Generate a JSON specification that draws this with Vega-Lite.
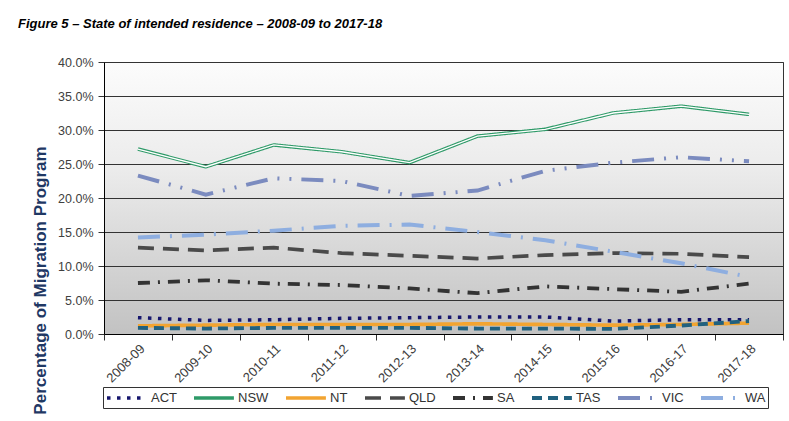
{
  "$schema": "https://vega.github.io/schema/vega-lite/v6.json",
  "autosize": {"type": "none"},
  "padding": {"left": 104, "top": 62, "right": 6, "bottom": 87},
  "width": 679,
  "height": 272,
  "background": "white",
  "title": {
    "text": "Figure 5 – State of intended residence – 2008-09 to 2017-18",
    "anchor": "start",
    "frame": "group",
    "dx": -86,
    "offset": 25,
    "font": "Liberation Sans",
    "fontSize": 13,
    "fontStyle": "italic",
    "fontWeight": "bold",
    "color": "#000000"
  },
  "config": {
    "font": "Liberation Sans",
    "view": {
      "stroke": "#333333",
      "strokeWidth": 1,
      "fill": {
        "gradient": "linear",
        "x1": 0, "y1": 0, "x2": 0, "y2": 1,
        "stops": [
          {"offset": 0, "color": "#fcfcfc"},
          {"offset": 0.4, "color": "#ebebeb"},
          {"offset": 1, "color": "#c2c2c2"}
        ]
      }
    }
  },
  "data": {
    "values": [
      {"year": "2008-09", "state": "ACT", "pct": 2.4},
      {"year": "2009-10", "state": "ACT", "pct": 2.0},
      {"year": "2010-11", "state": "ACT", "pct": 2.1},
      {"year": "2011-12", "state": "ACT", "pct": 2.3},
      {"year": "2012-13", "state": "ACT", "pct": 2.4},
      {"year": "2013-14", "state": "ACT", "pct": 2.5},
      {"year": "2014-15", "state": "ACT", "pct": 2.5},
      {"year": "2015-16", "state": "ACT", "pct": 1.9},
      {"year": "2016-17", "state": "ACT", "pct": 2.1},
      {"year": "2017-18", "state": "ACT", "pct": 2.1},
      {"year": "2008-09", "state": "NSW", "pct": 27.2},
      {"year": "2009-10", "state": "NSW", "pct": 24.6},
      {"year": "2010-11", "state": "NSW", "pct": 27.8},
      {"year": "2011-12", "state": "NSW", "pct": 26.8},
      {"year": "2012-13", "state": "NSW", "pct": 25.2},
      {"year": "2013-14", "state": "NSW", "pct": 29.1},
      {"year": "2014-15", "state": "NSW", "pct": 30.1},
      {"year": "2015-16", "state": "NSW", "pct": 32.5},
      {"year": "2016-17", "state": "NSW", "pct": 33.5},
      {"year": "2017-18", "state": "NSW", "pct": 32.3},
      {"year": "2008-09", "state": "NT", "pct": 1.2},
      {"year": "2009-10", "state": "NT", "pct": 1.3},
      {"year": "2010-11", "state": "NT", "pct": 1.4},
      {"year": "2011-12", "state": "NT", "pct": 1.4},
      {"year": "2012-13", "state": "NT", "pct": 1.4},
      {"year": "2013-14", "state": "NT", "pct": 1.5},
      {"year": "2014-15", "state": "NT", "pct": 1.4},
      {"year": "2015-16", "state": "NT", "pct": 1.3},
      {"year": "2016-17", "state": "NT", "pct": 1.4},
      {"year": "2017-18", "state": "NT", "pct": 1.6},
      {"year": "2008-09", "state": "QLD", "pct": 12.7},
      {"year": "2009-10", "state": "QLD", "pct": 12.3},
      {"year": "2010-11", "state": "QLD", "pct": 12.7},
      {"year": "2011-12", "state": "QLD", "pct": 11.9},
      {"year": "2012-13", "state": "QLD", "pct": 11.5},
      {"year": "2013-14", "state": "QLD", "pct": 11.1},
      {"year": "2014-15", "state": "QLD", "pct": 11.6},
      {"year": "2015-16", "state": "QLD", "pct": 11.9},
      {"year": "2016-17", "state": "QLD", "pct": 11.8},
      {"year": "2017-18", "state": "QLD", "pct": 11.3},
      {"year": "2008-09", "state": "SA", "pct": 7.5},
      {"year": "2009-10", "state": "SA", "pct": 7.9},
      {"year": "2010-11", "state": "SA", "pct": 7.4},
      {"year": "2011-12", "state": "SA", "pct": 7.2},
      {"year": "2012-13", "state": "SA", "pct": 6.7},
      {"year": "2013-14", "state": "SA", "pct": 6.0},
      {"year": "2014-15", "state": "SA", "pct": 7.0},
      {"year": "2015-16", "state": "SA", "pct": 6.6},
      {"year": "2016-17", "state": "SA", "pct": 6.2},
      {"year": "2017-18", "state": "SA", "pct": 7.4},
      {"year": "2008-09", "state": "TAS", "pct": 0.9},
      {"year": "2009-10", "state": "TAS", "pct": 0.8},
      {"year": "2010-11", "state": "TAS", "pct": 0.9},
      {"year": "2011-12", "state": "TAS", "pct": 0.9},
      {"year": "2012-13", "state": "TAS", "pct": 0.9},
      {"year": "2013-14", "state": "TAS", "pct": 0.8},
      {"year": "2014-15", "state": "TAS", "pct": 0.8},
      {"year": "2015-16", "state": "TAS", "pct": 0.75},
      {"year": "2016-17", "state": "TAS", "pct": 1.25},
      {"year": "2017-18", "state": "TAS", "pct": 1.9},
      {"year": "2008-09", "state": "VIC", "pct": 23.3},
      {"year": "2009-10", "state": "VIC", "pct": 20.5},
      {"year": "2010-11", "state": "VIC", "pct": 22.9},
      {"year": "2011-12", "state": "VIC", "pct": 22.5},
      {"year": "2012-13", "state": "VIC", "pct": 20.3},
      {"year": "2013-14", "state": "VIC", "pct": 21.1},
      {"year": "2014-15", "state": "VIC", "pct": 24.0},
      {"year": "2015-16", "state": "VIC", "pct": 25.2},
      {"year": "2016-17", "state": "VIC", "pct": 26.0},
      {"year": "2017-18", "state": "VIC", "pct": 25.4},
      {"year": "2008-09", "state": "WA", "pct": 14.2},
      {"year": "2009-10", "state": "WA", "pct": 14.6},
      {"year": "2010-11", "state": "WA", "pct": 15.2},
      {"year": "2011-12", "state": "WA", "pct": 15.9},
      {"year": "2012-13", "state": "WA", "pct": 16.1},
      {"year": "2013-14", "state": "WA", "pct": 15.0},
      {"year": "2014-15", "state": "WA", "pct": 13.8},
      {"year": "2015-16", "state": "WA", "pct": 12.1},
      {"year": "2016-17", "state": "WA", "pct": 10.4},
      {"year": "2017-18", "state": "WA", "pct": 8.4}
    ]
  },
  "encoding": {
    "x": {
      "field": "year",
      "type": "ordinal",
      "bandPosition": 0.5,
      "scale": {"type": "band", "paddingInner": 0, "paddingOuter": 0},
      "axis": {
        "title": null,
        "labelAngle": -45,
        "tickBand": "extent",
        "labelFont": "Liberation Sans",
        "labelFontSize": 13,
        "labelColor": "#404040",
        "labelPadding": 2,
        "domainColor": "#000000",
        "tickColor": "#333333",
        "tickSize": 6,
        "grid": false
      }
    },
    "y": {
      "field": "pct",
      "type": "quantitative",
      "scale": {"domain": [0, 40], "nice": false},
      "axis": {
        "values": [0, 5, 10, 15, 20, 25, 30, 35, 40],
        "labelExpr": "format(datum.value, '.1f') + '%'",
        "labelFont": "Liberation Sans",
        "labelFontSize": 12.5,
        "labelColor": "#404040",
        "labelPadding": 5,
        "domainColor": "#000000",
        "tickColor": "#333333",
        "tickSize": 6,
        "grid": true,
        "gridColor": "#333333",
        "gridWidth": 1,
        "title": "Percentage of Migration Program",
        "titleFont": "Liberation Sans",
        "titleFontSize": 17,
        "titleFontWeight": "bold",
        "titleColor": "#1f3864",
        "titleX": -64,
        "titleY": 218,
        "titleBaseline": "middle"
      }
    }
  },
  "layer": [
    {
      "mark": {"type": "line"},
      "encoding": {
        "color": {
          "field": "state",
          "type": "nominal",
          "scale": {
            "domain": ["ACT", "NSW", "NT", "QLD", "SA", "TAS", "VIC", "WA"],
            "range": ["#16166e", "#2e9a68", "#f2a431", "#4a4a4a", "#333333", "#21617f", "#7b8bbf", "#8eaee0"]
          },
          "legend": {
            "title": null,
            "orient": "none",
            "legendX": -1,
            "legendY": 325,
            "direction": "horizontal",
            "columns": 8,
            "gridAlign": "none",
            "symbolType": "M-1,0H4.7",
            "symbolSize": 196,
            "labelFont": "Liberation Sans",
            "labelFontSize": 13,
            "labelColor": "#333333",
            "labelOffset": 28,
            "columnPadding": 9,
            "padding": 2,
            "strokeColor": "#333333",
            "fillColor": "#ffffff"
          }
        },
        "strokeDash": {
          "field": "state",
          "type": "nominal",
          "scale": {
            "domain": ["ACT", "NSW", "NT", "QLD", "SA", "TAS", "VIC", "WA"],
            "range": [[3.5, 6.5], [1, 0], [1, 0], [16, 9], [12, 8, 2, 8], [10, 6], [22, 10, 2, 10, 2, 10], [22, 10, 2, 10]]
          }
        },
        "strokeWidth": {
          "field": "state",
          "type": "nominal",
          "scale": {
            "domain": ["ACT", "NSW", "NT", "QLD", "SA", "TAS", "VIC", "WA"],
            "range": [3.5, 4, 4.5, 3.5, 3.5, 3, 3.5, 3]
          }
        }
      }
    },
    {
      "transform": [{"filter": "datum.state === 'NSW'"}],
      "mark": {"type": "line", "color": "#ffffff", "strokeWidth": 1.3}
    }
  ]
}
